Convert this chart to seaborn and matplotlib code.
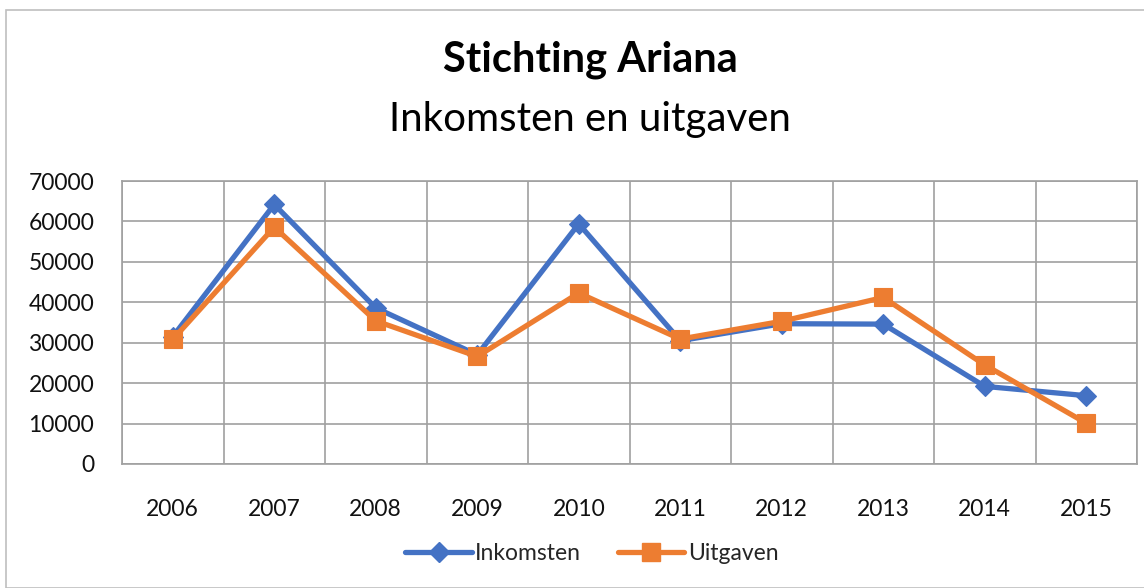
import matplotlib
matplotlib.use("Agg")
import matplotlib.pyplot as plt
import seaborn as sns
import pandas as pd
from matplotlib.patches import Rectangle
from matplotlib.lines import Line2D

years = ["2006", "2007", "2008", "2009", "2010", "2011", "2012", "2013", "2014", "2015"]
inkomsten = [31500, 64200, 38600, 27000, 59400, 30500, 34700, 34600, 19200, 16900]
uitgaven = [30800, 58600, 35400, 26600, 42300, 30900, 35300, 41200, 24500, 10100]
series_names = ["Inkomsten", "Uitgaven"]
yticks = [0, 10000, 20000, 30000, 40000, 50000, 60000, 70000]

df = pd.DataFrame({
    "jaar": years * 2,
    "bedrag": inkomsten + uitgaven,
    "reeks": [series_names[0]] * len(years) + [series_names[1]] * len(years),
})

sns.set_style("white")
plt.rcParams["font.family"] = ["Lato", "DejaVu Sans"]

W, H = 1144, 588
fig = plt.figure(figsize=(W / 100, H / 100), dpi=100)
fig.patches.append(Rectangle((6 / W, 0), 1, 1 - 10 / H, transform=fig.transFigure,
                             fill=False, edgecolor="#bfbfbf", linewidth=1.2))

ax = fig.add_axes([122 / W, (H - 464) / H, (1137 - 122) / W, (464 - 181) / H])

colors = {"Inkomsten": "#4472C4", "Uitgaven": "#ED7D31"}
sns.lineplot(data=df, x="jaar", y="bedrag", hue="reeks", style="reeks",
             palette=colors, markers={"Inkomsten": "D", "Uitgaven": "s"},
             dashes=False, linewidth=3.8, markersize=11, markeredgewidth=0.8,
             ax=ax, legend=False, sort=False)
for line, m in zip(ax.get_lines(), ["D", "s"]):
    line.set_markersize(10 if m == "D" else 13)
    line.set_markeredgecolor(line.get_color())

ax.set_xlim(-0.5, len(years) - 0.5)
ax.set_ylim(0, 70000)
ax.set_yticks(yticks)
ax.set_yticklabels([str(v) for v in yticks])
ax.set_xticks(range(len(years)))
ax.set_xticklabels(years)
ax.set_xticks([i - 0.5 for i in range(len(years) + 1)], minor=True)
ax.set_xlabel("")
ax.set_ylabel("")

ax.grid(True, axis="y", color="#a0a0a0", linewidth=1.2)
ax.grid(True, axis="x", which="minor", color="#a0a0a0", linewidth=1.2)
ax.grid(False, axis="x", which="major")
ax.tick_params(axis="x", which="major", length=0, pad=25, labelsize=16.5, labelcolor="#111111")
ax.tick_params(axis="x", which="minor", length=9, color="#a0a0a0", width=1.2, direction="out")
ax.tick_params(axis="y", length=6, color="#a0a0a0", width=1.2, direction="out",
               pad=14, labelsize=16.5, labelcolor="#111111")
for s in ax.spines.values():
    s.set_color("#a0a0a0")
    s.set_linewidth(1.2)
ax.set_axisbelow(True)

fig.text(590 / W, 1 - 60 / H, "Stichting Ariana", ha="center", va="center",
         fontsize=30, fontweight="bold", color="#000000")
fig.text(590 / W, 1 - 120 / H, "Inkomsten en uitgaven", ha="center", va="center",
         fontsize=29, fontweight="normal", color="#000000")

handles = [Line2D([], [], color=colors["Inkomsten"], marker="D", markersize=10, linewidth=3.8),
           Line2D([], [], color=colors["Uitgaven"], marker="s", markersize=13, linewidth=3.8)]
fig.legend(handles, series_names, loc="center", bbox_to_anchor=(592 / W, 1 - 554 / H),
           ncol=2, frameon=False, fontsize=16.5, handlelength=2.9, handletextpad=0.15,
           columnspacing=1.6)

fig.savefig("out.png", dpi=100)
